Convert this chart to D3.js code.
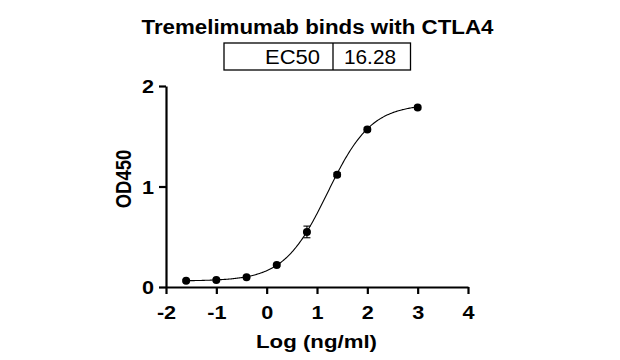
<!DOCTYPE html>
<html><head><meta charset="utf-8">
<script src="https://cdn.jsdelivr.net/npm/d3@7"></script>
<style>
body{margin:0;background:#fff;}
text{font-family:"Liberation Sans",Arial,Helvetica,sans-serif;}
</style></head>
<body><svg id="c" width="620" height="360"></svg>
<script>
const titleText = "Tremelimumab binds with CTLA4";
const ec50Label = "EC50";
const ec50Value = "16.28";
const xLabel = "Log (ng/ml)";
const yLabel = "OD450";
const logConc = [-1.6, -1.0, -0.4, 0.2, 0.8, 1.4, 2.0, 3.0];
const od450 = [0.062, 0.069, 0.098, 0.218, 0.548, 1.118, 1.568, 1.785];
const od450Err = [0.01, 0.01, 0.01, 0.01, 0.058, 0.02, 0.02, 0.015];
const xTicks = [-2, -1, 0, 1, 2, 3, 4];
const yTicks = [0, 1, 2];
// 4PL fit parameters
const fitBottom = 0.06, fitTop = 1.82, fitLogEC50 = Math.log10(16.28), fitHill = 1.0;

const svg = d3.select("#c");
const x = d3.scaleLinear().domain([-2, 4]).range([166, 468]);
const y = d3.scaleLinear().domain([0, 2]).range([287, 86]);
const stretch = 1.14;

// title
svg.append("text").attr("x", 317.5).attr("y", 34).attr("text-anchor", "middle")
  .attr("font-size", 19.5).attr("font-weight", "bold")
  .attr("textLength", 352).attr("lengthAdjust", "spacingAndGlyphs").text(titleText);

// EC50 box
const bx0 = 224, bx1 = 410.5, bdiv = 333, by0 = 43, by1 = 70;
svg.append("rect").attr("x", bx0).attr("y", by0).attr("width", bx1 - bx0).attr("height", by1 - by0)
  .attr("fill", "none").attr("stroke", "#000").attr("stroke-width", 1.3);
svg.append("line").attr("x1", bdiv).attr("x2", bdiv).attr("y1", by0).attr("y2", by1)
  .attr("stroke", "#000").attr("stroke-width", 1.3);
svg.append("text").attr("x", 320).attr("y", 64).attr("text-anchor", "end")
  .attr("font-size", 20.5).attr("textLength", 55).attr("lengthAdjust", "spacingAndGlyphs").text(ec50Label);
svg.append("text").attr("x", 344).attr("y", 64).attr("text-anchor", "start")
  .attr("font-size", 20.5).attr("textLength", 52).attr("lengthAdjust", "spacingAndGlyphs").text(ec50Value);

// axes
const fmt = d => String(d).replace("\u2212", "-");
const xAxis = svg.append("g").attr("transform", "translate(0,287)")
  .call(d3.axisBottom(x).tickValues(xTicks).tickFormat(fmt).tickSize(7).tickSizeOuter(0).tickPadding(12));
const yAxis = svg.append("g").attr("transform", "translate(166,0)")
  .call(d3.axisLeft(y).tickValues(yTicks).tickFormat(fmt).tickSize(7).tickSizeOuter(0).tickPadding(5));
[xAxis, yAxis].forEach(g => {
  g.select(".domain").attr("stroke-width", 2.2).attr("stroke", "#000");
  g.selectAll(".tick line").attr("stroke-width", 2.2).attr("stroke", "#000");
  g.selectAll(".tick text").attr("font-size", 19).attr("font-weight", "bold")
    .attr("font-family", "Liberation Sans, Arial, sans-serif").attr("fill", "#000")
    .each(function() {
      const w = this.getComputedTextLength();
      d3.select(this).attr("textLength", w * stretch).attr("lengthAdjust", "spacingAndGlyphs");
    });
});
yAxis.selectAll(".tick text").attr("dy", "0.36em");

// axis labels
svg.append("text").attr("x", 316.5).attr("y", 348).attr("text-anchor", "middle")
  .attr("font-size", 19).attr("font-weight", "bold")
  .attr("textLength", 121).attr("lengthAdjust", "spacingAndGlyphs").text(xLabel);
svg.append("text").attr("transform", "translate(131,179) rotate(-90) scale(1,1.15)").attr("text-anchor", "middle")
  .attr("font-size", 18.5).attr("font-weight", "bold").text(yLabel);

// fitted curve
const fit = v => fitBottom + (fitTop - fitBottom) / (1 + Math.pow(10, (fitLogEC50 - v) * fitHill));
const xs = d3.range(logConc[0], logConc[logConc.length - 1] + 0.0001, 0.02);
svg.append("path").datum(xs)
  .attr("d", d3.line().x(d => x(d)).y(d => y(fit(d))))
  .attr("fill", "none").attr("stroke", "#000").attr("stroke-width", 1.1);

// error bars
const pts = logConc.map((c, i) => ({c, v: od450[i], e: od450Err[i]}));
const eb = svg.append("g").attr("stroke", "#000").attr("stroke-width", 1.1);
pts.forEach(p => {
  eb.append("line").attr("x1", x(p.c)).attr("x2", x(p.c)).attr("y1", y(p.v - p.e)).attr("y2", y(p.v + p.e));
  [p.v - p.e, p.v + p.e].forEach(v => eb.append("line")
    .attr("x1", x(p.c) - 3.5).attr("x2", x(p.c) + 3.5).attr("y1", y(v)).attr("y2", y(v)));
});
// points
svg.append("g").selectAll("circle").data(pts).join("circle")
  .attr("cx", d => x(d.c)).attr("cy", d => y(d.v)).attr("r", 4).attr("fill", "#000");
</script></body></html>
